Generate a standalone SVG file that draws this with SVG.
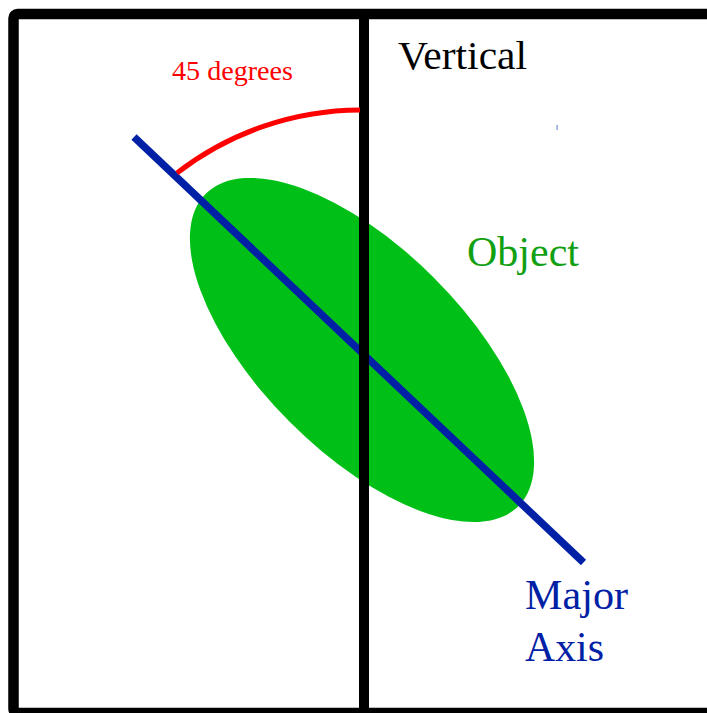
<svg xmlns="http://www.w3.org/2000/svg" width="707" height="713" viewBox="0 0 707 713">
  <style>
    .lbl { font-family: "Liberation Serif", "Times New Roman", serif; }
    .big { font-size: 42px; }
  </style>
  <rect width="707" height="713" fill="#ffffff"/>
  <g id="frame">
    <rect x="13.5" y="14" width="700" height="699" rx="4" fill="none" stroke="#000000" stroke-width="10.5"/>
  </g>
  <g id="object">
    <ellipse cx="362" cy="350" rx="221" ry="102" transform="rotate(45 362 350)" fill="#00c018"/>
    <text class="lbl big" x="467" y="266" fill="#11a011" textLength="112" lengthAdjust="spacingAndGlyphs">Object</text>
  </g>
  <g id="connectors">
    <line id="major-axis-line" x1="134" y1="137" x2="583.5" y2="562.5" stroke="#0021a5" stroke-width="7.5"/>
    <line id="vertical-line" x1="364" y1="14" x2="364" y2="713" stroke="#000000" stroke-width="10"/>
    <path id="angle-arc" d="M177,173 A301,301 0 0 1 360,110" fill="none" stroke="#ff0000" stroke-width="5"/>
  </g>
  <g id="vertical-label">
    <text class="lbl" x="398" y="69" font-size="40" fill="#000000" textLength="129" lengthAdjust="spacingAndGlyphs">Vertical</text>
  </g>
  <g id="angle-label">
    <text class="lbl" x="172" y="80" font-size="28" fill="#ff0000" textLength="121" lengthAdjust="spacingAndGlyphs">45 degrees</text>
  </g>
  <g id="major-axis-label">
    <text class="lbl big" x="525" y="609" fill="#0021a5" textLength="103" lengthAdjust="spacingAndGlyphs">Major</text>
    <text class="lbl big" x="525" y="661" fill="#0021a5" textLength="79" lengthAdjust="spacingAndGlyphs">Axis</text>
  </g>
  <rect id="mark" x="556.5" y="125" width="1.2" height="5" fill="#6f8fd6"/>
</svg>
